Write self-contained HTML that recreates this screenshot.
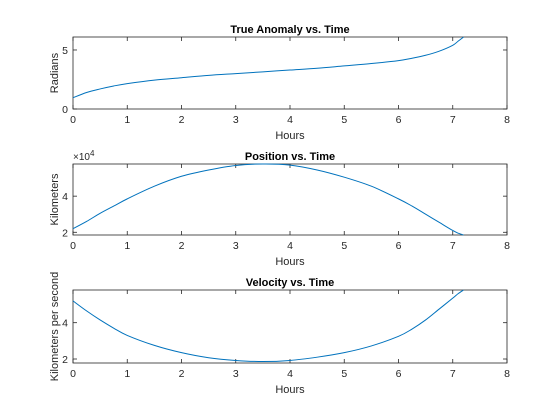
<!DOCTYPE html>
<html><head><meta charset="utf-8"><style>
body{margin:0;background:#fff;}
svg{display:block;font-family:"Liberation Sans",Arial,sans-serif;}
</style></head><body>
<svg id="c" width="560" height="420"></svg>
<script>
const hours = [0,0.25,0.5,0.75,1,1.5,2,2.5,3,3.5,4,4.5,5,5.5,6,6.25,6.5,6.75,7,7.1,7.2];
const anomaly = [0.95,1.4,1.7,1.95,2.15,2.45,2.65,2.85,3.0,3.15,3.3,3.45,3.65,3.85,4.1,4.3,4.55,4.9,5.4,5.75,6.1];
const position = [2.2,2.6,3.05,3.45,3.85,4.55,5.1,5.45,5.7,5.78,5.72,5.45,5.05,4.55,3.85,3.45,3.0,2.55,2.1,1.95,1.85];
const velocity = [5.2,4.65,4.15,3.7,3.3,2.75,2.35,2.07,1.92,1.86,1.92,2.1,2.35,2.72,3.25,3.65,4.15,4.75,5.35,5.6,5.8];
const xTicks = [0,1,2,3,4,5,6,7,8];
const panels = [
 {name:'anomaly',title:'True Anomaly vs. Time',ylabel:'Radians',data:anomaly,top:37,bottom:109,ymin:0,ymax:6.1,yticks:[0,5],exp:false},
 {name:'position',title:'Position vs. Time',ylabel:'Kilometers',data:position,top:164,bottom:235,ymin:1.85,ymax:5.78,yticks:[2,4],exp:true},
 {name:'velocity',title:'Velocity vs. Time',ylabel:'Kilometers per second',data:velocity,top:290,bottom:363,ymin:1.78,ymax:5.8,yticks:[2,4],exp:false}
];
const NS='http://www.w3.org/2000/svg';
const svg=document.getElementById('c');
const L=73,R=507;
function mk(tag,attrs,parent,text){const e=document.createElementNS(NS,tag);for(const k in attrs)e.setAttribute(k,attrs[k]);if(text!==undefined)e.textContent=text;(parent||svg).appendChild(e);return e;}
const xs=v=>L+(v-0)/(8-0)*(R-L);
panels.forEach(p=>{
 const ys=v=>p.bottom-(v-p.ymin)/(p.ymax-p.ymin)*(p.bottom-p.top);
 const g=mk('g',{});
 
 
 const box=mk('rect',{x:L,y:p.top,width:R-L,height:p.bottom-p.top,fill:'#fff',stroke:'#262626','stroke-width':0.8},g);
 
 
 xTicks.forEach(t=>{
  const x=xs(t);
  mk('line',{x1:x,x2:x,y1:p.bottom,y2:p.bottom-4,stroke:'#262626','stroke-width':0.8},g);
  mk('line',{x1:x,x2:x,y1:p.top,y2:p.top+4,stroke:'#262626','stroke-width':0.8},g);
  const tl=mk('text',{x:x,y:p.bottom+14,'text-anchor':'middle','font-size':10.5,fill:'#262626'},g,String(t));
  
  
 });
 p.yticks.forEach(t=>{
  const y=ys(t);
  mk('line',{x1:L,x2:L+4,y1:y,y2:y,stroke:'#262626','stroke-width':0.8},g);
  mk('line',{x1:R,x2:R-4,y1:y,y2:y,stroke:'#262626','stroke-width':0.8},g);
  const tl=mk('text',{x:L-5,y:y+4,'text-anchor':'end','font-size':10.5,fill:'#262626'},g,String(t));
  
  
 });
 const ti=mk('text',{x:(L+R)/2,y:p.top-4,'text-anchor':'middle','font-size':11,'font-weight':'bold',fill:'#000'},g,p.title);
 
 
 const xl=mk('text',{x:(L+R)/2,y:p.bottom+30,'text-anchor':'middle','font-size':11,fill:'#262626'},g,'Hours');
 
 
 const cy=(p.top+p.bottom)/2;
 const yl=mk('text',{x:58,y:cy,'text-anchor':'middle','font-size':11,fill:'#262626',transform:`rotate(-90 58 ${cy})`},g,p.ylabel);
 
 
 if(p.exp){
  const ex=mk('text',{x:L,y:p.top-4,'font-size':10,fill:'#262626'},g);
  
  
  ex.innerHTML='×10<tspan dy="-4" font-size="8">4</tspan>';
 }
 const pts=hours.map((h,i)=>[xs(h),ys(p.data[i])]);
 let d='M'+pts[0][0]+','+pts[0][1];
 for(let i=0;i<pts.length-1;i++){
  const p0=pts[Math.max(0,i-1)],p1=pts[i],p2=pts[i+1],p3=pts[Math.min(pts.length-1,i+2)];
  const c1=[p1[0]+(p2[0]-p0[0])/6,p1[1]+(p2[1]-p0[1])/6];
  const c2=[p2[0]-(p3[0]-p1[0])/6,p2[1]-(p3[1]-p1[1])/6];
  d+=`C${c1[0]},${c1[1]} ${c2[0]},${c2[1]} ${p2[0]},${p2[1]}`;
 }
 const line=mk('path',{d:d,fill:'none',stroke:'#0072BD','stroke-width':1},g);
 
 
});
</script>
</body></html>
